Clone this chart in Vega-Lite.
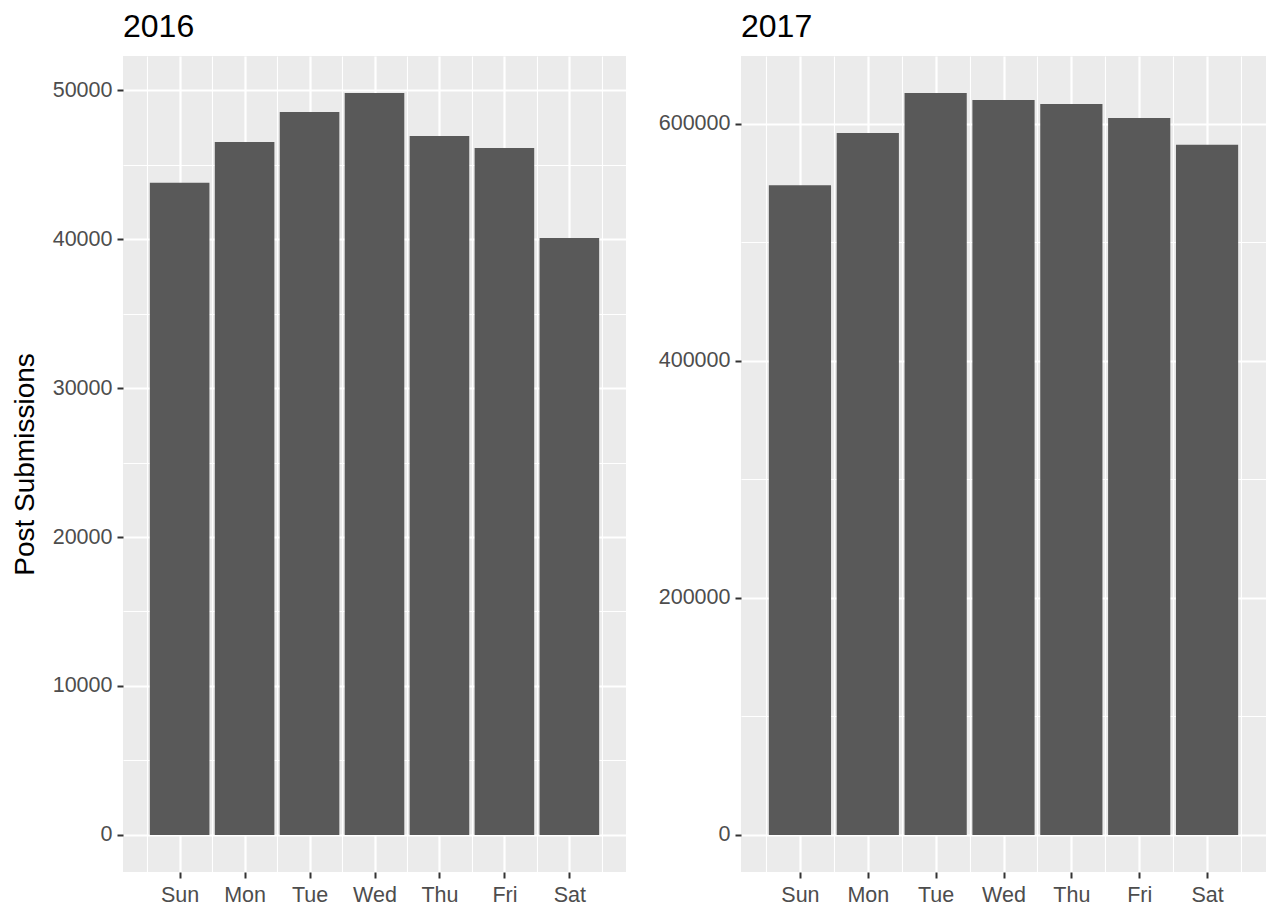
{
  "$schema": "https://vega.github.io/schema/vega-lite/v6.json",
  "background": "white",
  "autosize": {"type": "pad"},
  "padding": {"left": 11, "top": 11, "right": 12, "bottom": 0},
  "config": {
    "font": "Liberation Sans",
    "view": {"fill": "#EBEBEB", "stroke": null},
    "axis": {
      "domain": false,
      "labelFont": "Liberation Sans",
      "labelColor": "#4D4D4D",
      "labelFontSize": 21.5,
      "tickColor": "#333333",
      "tickWidth": 2,
      "tickSize": 6,
      "gridColor": "#FFFFFF",
      "titleFont": "Liberation Sans",
      "titleFontWeight": "normal",
      "titleColor": "#000000",
      "titleFontSize": 28,
      "labelOverlap": false,
      "labelFlush": false
    },
    "title": {"anchor": "start", "frame": "group", "fontSize": 32, "fontWeight": "normal", "font": "Liberation Sans", "color": "#000000", "offset": 12},
    "concat": {"spacing": 32}
  },
  "datasets": {
    "y2016": [
      {"dow": 1, "day": "Sun", "posts": 43783},
      {"dow": 2, "day": "Mon", "posts": 46516},
      {"dow": 3, "day": "Tue", "posts": 48530},
      {"dow": 4, "day": "Wed", "posts": 49806},
      {"dow": 5, "day": "Thu", "posts": 46919},
      {"dow": 6, "day": "Fri", "posts": 46113},
      {"dow": 7, "day": "Sat", "posts": 40071}
    ],
    "y2017": [
      {"dow": 1, "day": "Sun", "posts": 548039},
      {"dow": 2, "day": "Mon", "posts": 592155},
      {"dow": 3, "day": "Tue", "posts": 625896},
      {"dow": 4, "day": "Wed", "posts": 619992},
      {"dow": 5, "day": "Thu", "posts": 616617},
      {"dow": 6, "day": "Fri", "posts": 604808},
      {"dow": 7, "day": "Sat", "posts": 582286}
    ]
  },
  "hconcat": [
    {
      "title": "2016",
      "width": 503,
      "height": 816,
      "data": {"name": "y2016"},
      "mark": {"type": "bar", "width": 59.6, "color": "#595959"},
      "encoding": {
        "x": {
          "field": "dow", "type": "quantitative",
          "scale": {"domain": [0.205, 7.795], "nice": false, "zero": false},
          "axis": {
            "title": null,
            "values": [0.5, 1, 1.5, 2, 2.5, 3, 3.5, 4, 4.5, 5, 5.5, 6, 6.5, 7, 7.5],
            "labelExpr": "datum.value % 1 === 0 ? ['Sun','Mon','Tue','Wed','Thu','Fri','Sat'][datum.value - 1] : ''",
            "tickOpacity": {"condition": {"test": "datum.value % 1 === 0", "value": 1}, "value": 0},
            "gridWidth": {"condition": {"test": "datum.value % 1 === 0", "value": 2.2}, "value": 1.1},
            "labelPadding": 6
          }
        },
        "y": {
          "field": "posts", "type": "quantitative",
          "scale": {"domain": [-2490, 52296], "nice": false, "zero": false},
          "axis": {
            "title": "Post Submissions",
            "titlePadding": 13,
            "values": [0, 5000, 10000, 15000, 20000, 25000, 30000, 35000, 40000, 45000, 50000],
            "labelExpr": "datum.value % 10000 === 0 ? '' + datum.value : ''",
            "tickOpacity": {"condition": {"test": "datum.value % 10000 === 0", "value": 1}, "value": 0},
            "gridWidth": {"condition": {"test": "datum.value % 10000 === 0", "value": 2.2}, "value": 1.1},
            "labelPadding": 5
          }
        }
      }
    },
    {
      "title": "2017",
      "width": 525,
      "height": 816,
      "data": {"name": "y2017"},
      "mark": {"type": "bar", "width": 62.2, "color": "#595959"},
      "encoding": {
        "x": {
          "field": "dow", "type": "quantitative",
          "scale": {"domain": [0.205, 7.795], "nice": false, "zero": false},
          "axis": {
            "title": null,
            "values": [0.5, 1, 1.5, 2, 2.5, 3, 3.5, 4, 4.5, 5, 5.5, 6, 6.5, 7, 7.5],
            "labelExpr": "datum.value % 1 === 0 ? ['Sun','Mon','Tue','Wed','Thu','Fri','Sat'][datum.value - 1] : ''",
            "tickOpacity": {"condition": {"test": "datum.value % 1 === 0", "value": 1}, "value": 0},
            "gridWidth": {"condition": {"test": "datum.value % 1 === 0", "value": 2.2}, "value": 1.1},
            "labelPadding": 6
          }
        },
        "y": {
          "field": "posts", "type": "quantitative",
          "scale": {"domain": [-31295, 657191], "nice": false, "zero": false},
          "axis": {
            "title": null,
            "values": [0, 100000, 200000, 300000, 400000, 500000, 600000],
            "labelExpr": "datum.value % 200000 === 0 ? '' + datum.value : ''",
            "tickOpacity": {"condition": {"test": "datum.value % 200000 === 0", "value": 1}, "value": 0},
            "gridWidth": {"condition": {"test": "datum.value % 200000 === 0", "value": 2.2}, "value": 1.1},
            "labelPadding": 5
          }
        }
      }
    }
  ]
}
